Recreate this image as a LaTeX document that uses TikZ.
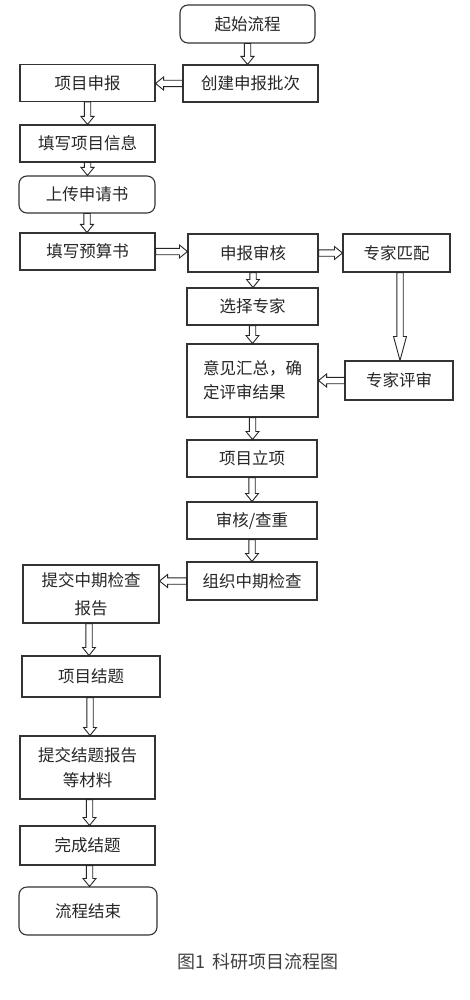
\documentclass[tikz,border=0pt]{standalone}
\usepackage{fontspec}
\newfontfamily\cjk{Noto Sans CJK SC}
\usetikzlibrary{calc}
\tikzset{
  box/.style={draw=black!80, line width=1.1pt, inner sep=0pt, align=center,
    text=black!85, font=\cjk\fontsize{16.5pt}{24pt}\selectfont},
  rbox/.style={box, rounded corners=8pt},
  barrow/.style={draw=black!85, line width=0.9pt, fill=white, line join=miter,
    /utils/exec={\def\bsw{3.2}\def\bhw{6.5}\def\bhl{8}},
    to path={let \p1=(\tikztostart), \p2=(\tikztotarget),
      \n1={veclen(\x2-\x1,\y2-\y1)}, \n2={(\x2-\x1)/\n1}, \n3={(\y2-\y1)/\n1} in
      ({\x1-\bsw*\n3},{\y1+\bsw*\n2})
      -- ({\x2-\bhl*\n2-\bsw*\n3},{\y2-\bhl*\n3+\bsw*\n2})
      -- ({\x2-\bhl*\n2-\bhw*\n3},{\y2-\bhl*\n3+\bhw*\n2})
      -- (\p2)
      -- ({\x2-\bhl*\n2+\bhw*\n3},{\y2-\bhl*\n3-\bhw*\n2})
      -- ({\x2-\bhl*\n2+\bsw*\n3},{\y2-\bhl*\n3-\bsw*\n2})
      -- ({\x1+\bsw*\n3},{\y1-\bsw*\n2}) -- cycle}},
  longhead/.style={/utils/exec={\def\bhl{24}}}
}
\begin{document}
\begin{tikzpicture}[x=1pt,y=-1pt]
\useasboundingbox[fill=white] (0,0) rectangle (470,1000);
% right/top column
\node[rbox, minimum width=135pt, minimum height=38pt] (start) at (247.5,24) {起始流程};
\node[box, minimum width=135pt, minimum height=37pt] (batch) at (250.5,83.5) {创建申报批次};
% left column
\node[box, minimum width=135pt, minimum height=37pt] (apply) at (87.5,83) {项目申报};
\node[box, minimum width=135pt, minimum height=37pt] (info) at (87.5,143.5) {填写项目信息};
\node[rbox, minimum width=136pt, minimum height=37pt] (upload) at (87,194.5) {上传申请书};
\node[box, minimum width=135pt, minimum height=37pt] (budget) at (87.5,251.5) {填写预算书};
% middle column
\node[box, minimum width=130pt, minimum height=38pt] (review) at (253,253) {申报审核};
\node[box, minimum width=107pt, minimum height=38pt] (match) at (396.5,253) {专家匹配};
\node[box, minimum width=131pt, minimum height=37pt] (select) at (252.5,306.5) {选择专家};
\node[box, minimum width=131pt, minimum height=73pt, align=left] (summary) at (252.5,380.5) {意见汇总，确\\定评审结果};
\node[box, minimum width=108pt, minimum height=39pt] (expert) at (399,380.5) {专家评审};
\node[box, minimum width=130pt, minimum height=37pt] (approve) at (252,458.5) {项目立项};
\node[box, minimum width=130pt, minimum height=37pt] (check) at (252,520.5) {审核/查重};
\node[box, minimum width=130pt, minimum height=38pt] (mid) at (252,581) {组织中期检查};
% lower left column
\node[box, minimum width=136pt, minimum height=58pt, font=\cjk\fontsize{16.5pt}{28pt}\selectfont] (midrep) at (91,594) {提交中期检查\\报告};
\node[box, minimum width=138pt, minimum height=41pt] (conclude) at (91,676.5) {项目结题};
\node[box, minimum width=135pt, minimum height=63pt, font=\cjk\fontsize{16.5pt}{25pt}\selectfont] (finrep) at (87.5,767.5) {提交结题报告\\等材料};
\node[box, minimum width=135pt, minimum height=39pt] (done) at (87.5,845.5) {完成结题};
\node[rbox, minimum width=138pt, minimum height=48pt] (finish) at (88,911) {流程结束};
% caption
\node[inner sep=0pt, text=black!75, font=\cjk\fontsize{18pt}{20pt}\selectfont] (cap) at (258,962) {图1\hspace{7pt}科研项目流程图};
% connectors
\draw[barrow] (start.south) to (start.south |- batch.north);
\draw[barrow] (batch.west) to (batch.west -| apply.east);
\draw[barrow] (apply.south) to (apply.south |- info.north);
\draw[barrow] (info.south) to (info.south |- upload.north);
\draw[barrow] (upload.south) to (upload.south |- budget.north);
\draw[barrow] (budget.east) to (budget.east -| review.west);
\draw[barrow] (review.east) to (review.east -| match.west);
\draw[barrow] (review.south) to (review.south |- select.north);
\draw[barrow] (select.south) to (select.south |- summary.north);
\draw[barrow, longhead] ($(match.south)+(3.5,0)$) coordinate (ms) to (ms |- expert.north);
\draw[barrow] (expert.west) to (expert.west -| summary.east);
\draw[barrow] (summary.south) to (summary.south |- approve.north);
\draw[barrow] (approve.south) to (approve.south |- check.north);
\draw[barrow] (check.south) to (check.south |- mid.north);
\draw[barrow] (mid.west) to (mid.west -| midrep.east);
\draw[barrow] ($(midrep.south)+(-2,0)$) coordinate (mr) to (mr |- conclude.north);
\draw[barrow] ($(conclude.south)+(-1,0)$) coordinate (cc) to (cc |- finrep.north);
\draw[barrow] ($(finrep.south)+(2,0)$) coordinate (fr) to (fr |- done.north);
\draw[barrow] ($(done.south)+(2,0)$) coordinate (dn) to (dn |- finish.north);
\end{tikzpicture}
\end{document}
